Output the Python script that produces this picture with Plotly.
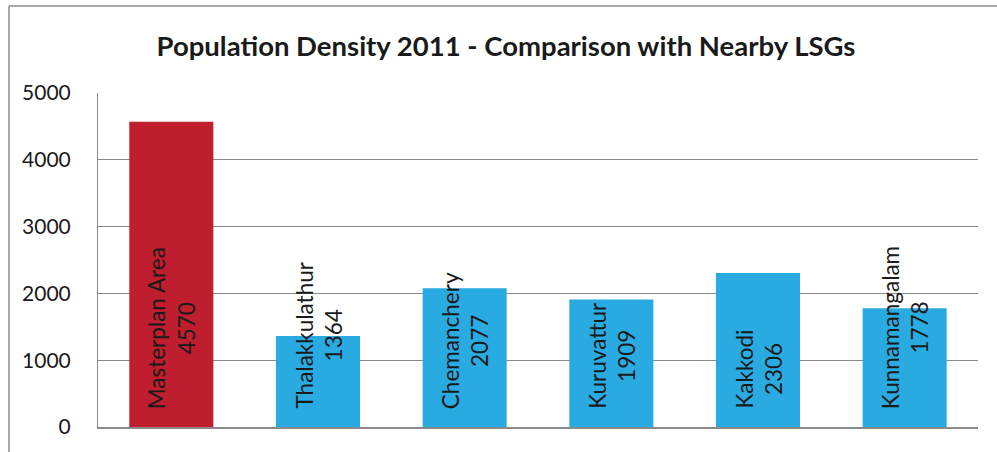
import plotly.graph_objects as go

# Population density (persons per sq. km), 2011
areas = ["Masterplan Area", "Thalakkulathur", "Chemanchery", "Kuruvattur", "Kakkodi", "Kunnamangalam"]
density = [4570, 1364, 2077, 1909, 2306, 1778]
bar_colors = ["#BE1E2D", "#29ABE2", "#29ABE2", "#29ABE2", "#29ABE2", "#29ABE2"]
y_ticks = [0, 1000, 2000, 3000, 4000, 5000]

W, H = 997, 452
L, R, T, B = 98, 19, 93, 25
plot_w = W - L - R
plot_h = H - T - B

FONT = "Lato, 'Open Sans', sans-serif"

fig = go.Figure()
fig.add_trace(go.Bar(
    x=areas,
    y=density,
    marker=dict(color=bar_colors, line=dict(width=0)),
    width=0.573,
    hoverinfo="x+y",
))

# Rotated name/value labels rising from the base of each bar
for name, val in zip(areas, density):
    fig.add_annotation(
        x=name, y=0, xref="x", yref="y",
        text=f"{name}<br>{val}",
        textangle=-90,
        showarrow=False,
        xanchor="center", yanchor="bottom",
        yshift=16,
        align="center",
        font=dict(family=FONT, size=22.5, color="#1a1a1a"),
    )

# Outer chart frame (left and top edges visible)
fx = (9 - L) / plot_w
fy = (H - B - 6) / plot_h
fig.add_shape(type="line", xref="paper", yref="paper",
              x0=fx, x1=fx, y0=-0.2, y1=fy,
              line=dict(color="#8c8c8c", width=1.5))
fig.add_shape(type="line", xref="paper", yref="paper",
              x0=fx, x1=1.1, y0=fy, y1=fy,
              line=dict(color="#8c8c8c", width=1.5))

fig.update_layout(
    width=W, height=H,
    margin=dict(l=L, r=R, t=T, b=B, pad=0),
    paper_bgcolor="white",
    plot_bgcolor="white",
    showlegend=False,
    title=dict(
        text="<b>Population Density 2011 - Comparison with Nearby LSGs</b>",
        x=506 / W, xanchor="center",
        y=1 - 46 / H, yanchor="middle",
        font=dict(family=FONT, size=27.5, color="#1a1a1a"),
    ),
    font=dict(family=FONT),
)
fig.update_xaxes(
    showticklabels=False,
    ticks="",
    showgrid=False,
    showline=True, linecolor="#8a8a8a", linewidth=2,
    zeroline=False,
)
fig.update_yaxes(
    range=[0, 5000],
    tickvals=y_ticks,
    ticktext=[str(v) for v in y_ticks],
    ticks="",
    ticklabelstandoff=22,
    tickfont=dict(family=FONT, size=21, color="#1a1a1a"),
    showgrid=True, gridcolor="#8a8a8a", gridwidth=1,
    showline=True, linecolor="#8a8a8a", linewidth=1,
    zeroline=False,
)

fig.write_html("out.html")
